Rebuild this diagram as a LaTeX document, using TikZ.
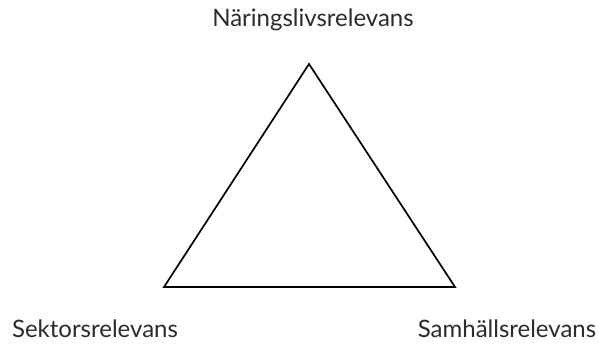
\documentclass[tikz,border=0pt]{standalone}
\usepackage{fontspec}
\setmainfont{Lato}
\definecolor{txt}{HTML}{2B2B2B}
\begin{document}
\begin{tikzpicture}[x=1pt,y=-1pt,
  lbl/.style={font=\fontsize{24}{28}\selectfont, text=txt, inner sep=0pt, anchor=base},
  tri/.style={line width=1.7pt, line join=miter}]
\useasboundingbox (0,0) rectangle (599,343);
\coordinate (t) at (309,64);
\coordinate (l) at (164,287);
\coordinate (r) at (455,287);
\draw[tri] (t) -- (l) -- (r) -- cycle;
\node[lbl] (nl) at (313,26) {Näringslivsrelevans};
\node[lbl] (sk) at (95,337) {Sektorsrelevans};
\node[lbl] (sh) at (507,337) {Samhällsrelevans};
\end{tikzpicture}
\end{document}
